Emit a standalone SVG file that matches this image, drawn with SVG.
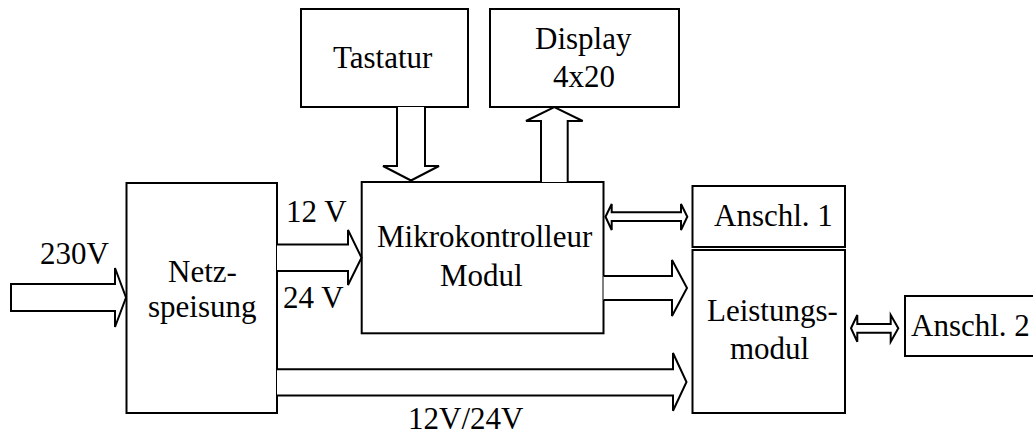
<svg xmlns="http://www.w3.org/2000/svg" width="1033" height="434" viewBox="0 0 1033 434">
<style>
.box{fill:#fff;stroke:#000;stroke-width:2}
.arr{fill:#fff;stroke:#000;stroke-width:2;stroke-linejoin:miter}
text{font-family:"Liberation Serif","Times New Roman",serif;font-size:31px;fill:#000}
</style>
<rect width="1033" height="434" fill="#fff"/>
<g id="netzspeisung">
<rect class="box" x="126.5" y="183" width="150.5" height="230"/>
<text x="168" y="282">Netz-</text>
<text x="148" y="317">speisung</text>
</g>
<g id="tastatur">
<rect class="box" x="301" y="9" width="167" height="98"/>
<text x="333" y="68">Tastatur</text>
</g>
<g id="display">
<rect class="box" x="490" y="9" width="189" height="98"/>
<text x="535" y="49">Display</text>
<text x="553" y="87">4x20</text>
</g>
<g id="mikrokontroller">
<rect class="box" x="361.7" y="182" width="241.8" height="151.3"/>
<text x="377" y="247">Mikrokontrolleur</text>
<text x="440" y="286">Modul</text>
</g>
<g id="anschl1">
<rect class="box" x="692.5" y="186" width="152.5" height="61"/>
<text x="714" y="226">Anschl. 1</text>
</g>
<g id="leistungsmodul">
<rect class="box" x="692.5" y="250" width="152.5" height="163"/>
<text x="707" y="321">Leistungs-</text>
<text x="730" y="359">modul</text>
</g>
<g id="anschl2">
<rect class="box" x="905" y="296" width="140" height="60"/>
<text x="911" y="336" font-size="30.5">Anschl. 2</text>
</g>
<g id="connectors">
<path class="arr" d="M11,284 H115 V268 L126,297.5 L115,327 V311 H11 Z"/>
<path class="arr" d="M277,244.5 H348 V230 L361.5,257.7 L348,285 V271 H277"/>
<path class="arr" d="M397,107 V166 H383 L411,180.5 L439,166 H425 V107"/>
<path class="arr" d="M541,182 V121 H526 L554.3,107 L582.7,121 H567.7 V182"/>
<path class="arr" d="M603.5,276 H672 V260 L687,288 L672,316 V300 H603.5"/>
<path class="arr" d="M277,369.3 H673 V353 L686.5,382 L673,410.7 V395.5 H277"/>
<path class="arr" d="M605.5,216.7 L611.7,204 V212.3 H681 V204 L687.3,216.7 L681,230 V221 H611.7 V230 Z"/>
<path class="arr" d="M851,328.3 L857.3,315 V324 H890.7 V315 L898.3,328.3 L890.7,341.7 V332.7 H857.3 V341.7 Z"/>
<text x="40" y="264">230V</text>
<text x="286" y="222">12 V</text>
<text x="283" y="308">24 V</text>
<text x="408" y="429">12V/24V</text>
</g>
</svg>
